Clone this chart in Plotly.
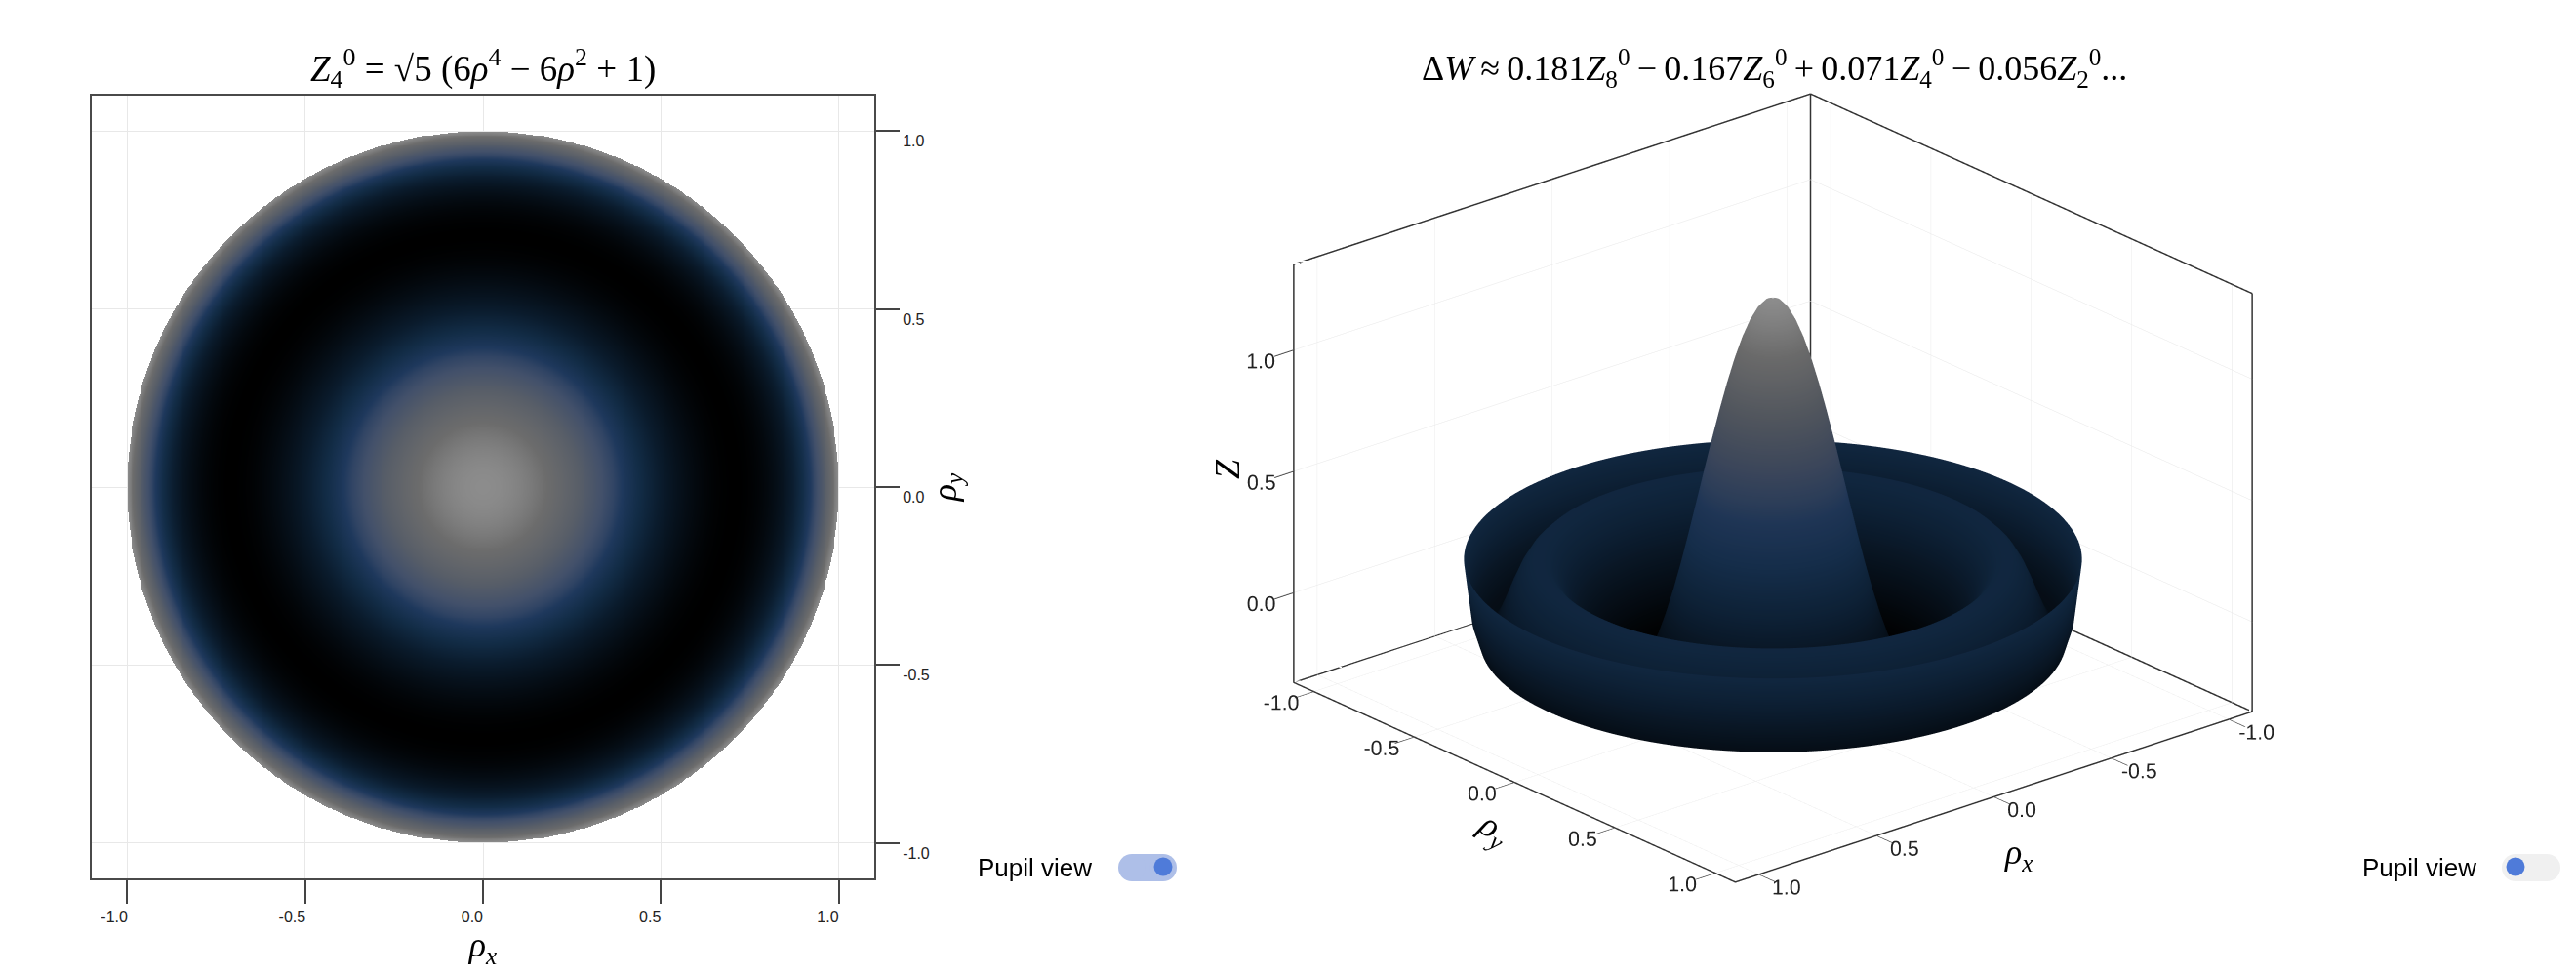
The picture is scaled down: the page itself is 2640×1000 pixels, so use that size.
import numpy as np
import plotly.graph_objects as go

W, H = 2640, 1000

# ---- data -----------------------------------------------------------------
rho_stations = [0.000, 0.025, 0.050, 0.075, 0.100, 0.125, 0.150, 0.175, 0.200, 0.225,
                0.250, 0.275, 0.300, 0.325, 0.350, 0.375, 0.400, 0.425, 0.450, 0.475,
                0.500, 0.525, 0.550, 0.575, 0.600, 0.625, 0.650, 0.675, 0.700, 0.725,
                0.750, 0.775, 0.800, 0.825, 0.850, 0.875, 0.900, 0.925, 0.950, 0.975, 1.000]
# left panel: radial profile of the pupil map
pupil_profile = [2.236, 2.228, 2.203, 2.161, 2.103, 2.030, 1.941, 1.838, 1.721, 1.591,
                 1.450, 1.298, 1.137, 0.969, 0.794, 0.615, 0.433, 0.250, 0.069, -0.108,
                 -0.280, -0.443, -0.595, -0.733, -0.855, -0.958, -1.037, -1.092, -1.117, -1.109,
                 -1.066, -0.982, -0.855, -0.680, -0.454, -0.171, 0.171, 0.579, 1.055, 1.606, 2.236]
# right panel: radial profile of the 3D surface
wavefront_profile = [1.275, 1.264, 1.232, 1.179, 1.108, 1.019, 0.916, 0.801, 0.678, 0.549,
                     0.419, 0.291, 0.168, 0.055, -0.046, -0.133, -0.203, -0.253, -0.285, -0.296,
                     -0.288, -0.261, -0.220, -0.165, -0.102, -0.034, 0.033, 0.095, 0.147, 0.183,
                     0.199, 0.195, 0.166, 0.117, 0.050, -0.025, -0.094, -0.138, -0.130, -0.037, 0.198]
tick_vals = [-1.0, -0.5, 0.0, 0.5, 1.0]
tick_text = ["-1.0", "-0.5", "0.0", "0.5", "1.0"]
z_tick_vals = [0.0, 0.5, 1.0]
z_tick_text = ["0.0", "0.5", "1.0"]
xy_range = [-1.1, 1.1]
z_range = [-0.37, 1.353]

colors = [[0.0, "rgb(0,0,0)"], [0.25, "rgb(10,27,44)"], [0.375, "rgb(18,44,70)"],
          [0.48, "rgb(30,56,92)"], [0.53, "rgb(48,68,100)"], [0.6, "rgb(66,80,106)"],
          [0.73, "rgb(88,94,104)"], [0.875, "rgb(108,108,108)"], [0.96, "rgb(130,130,130)"],
          [1.0, "rgb(140,140,140)"]]
colors_3d = [[0.0, "rgb(0,0,0)"], [0.25, "rgb(16,40,66)"], [0.375, "rgb(26,56,92)"],
             [0.48, "rgb(38,66,106)"], [0.53, "rgb(54,76,110)"], [0.6, "rgb(72,86,112)"],
             [0.73, "rgb(100,106,116)"], [0.875, "rgb(132,132,132)"], [1.0, "rgb(175,175,175)"]]

# ---- left panel -----------------------------------------------------------
axis_grid = np.arange(-1.0, 1.0001, 0.0025)
gx, gy = np.meshgrid(axis_grid, axis_grid)
gr = np.hypot(gx, gy)
zmap = np.interp(gr, rho_stations, pupil_profile)
zmap[gr > 1.0] = np.nan

fig = go.Figure()
fig.add_trace(go.Heatmap(x=axis_grid, y=axis_grid, z=zmap, colorscale=colors,
                         zmin=-1.118, zmax=2.236, showscale=False, hoverinfo="skip"))

# ---- right panel ----------------------------------------------------------
rr = np.array(rho_stations)
theta = np.deg2rad(np.arange(0, 361, 2))
sx = np.outer(rr, np.cos(theta))
sy = np.outer(rr, np.sin(theta))
sz = np.outer(np.array(wavefront_profile), np.ones_like(theta))
fig.add_trace(go.Surface(x=sx, y=sy, z=sz, surfacecolor=sz, colorscale=colors_3d,
                         cmin=-0.296, cmax=1.275, showscale=False, hoverinfo="skip",
                         lighting=dict(ambient=0.8, diffuse=0.7, specular=0.0,
                                       roughness=0.3, fresnel=0.0),
                         lightposition=dict(x=65000, y=75000, z=10000), scene="scene"))

lo, hi = xy_range
zl, zh = z_range
edges = [((lo, lo, zl), (lo, lo, zh)), ((hi, lo, zl), (hi, lo, zh)), ((lo, hi, zl), (lo, hi, zh)),
         ((lo, lo, zh), (hi, lo, zh)), ((lo, lo, zh), (lo, hi, zh)),
         ((lo, lo, zl), (hi, lo, zl)), ((lo, lo, zl), (lo, hi, zl)),
         ((hi, hi, zl), (hi, lo, zl)), ((hi, hi, zl), (lo, hi, zl))]
for a, b in edges:
    fig.add_trace(go.Scatter3d(x=[a[0], b[0]], y=[a[1], b[1]], z=[a[2], b[2]], mode="lines",
                               hoverinfo="skip", showlegend=False,
                               line=dict(color="#333333", width=3), scene="scene"))


def px(v):
    return v / W


def py(v):
    return 1 - v / H


SANS = "Liberation Sans"
SERIF = "Liberation Serif"
TICK = dict(family=SANS, size=16, color="#222222")

x_text = [t + "\u00a0" * (6 if t.startswith("-") else 5) for t in tick_text]
y_text = ["<br>" + t for t in tick_text]
frame = dict(showline=True, linecolor="#4a4a4a", linewidth=2, mirror=True,
             showgrid=True, gridcolor="#e8e8e8", gridwidth=1, zeroline=False,
             ticks="outside", ticklen=24, tickwidth=1.5, tickcolor="#444444",
             tickfont=TICK, tickmode="array", tickvals=tick_vals, range=xy_range)
axis3d = dict(showbackground=False, showgrid=True, gridcolor="#e6e6e6", gridwidth=1,
              zeroline=False, showline=True, linecolor="#333333", linewidth=3,
              showspikes=False, ticks="outside", ticklen=26,
              tickcolor="#444444", tickwidth=2, tickangle=0,
              tickfont=dict(family=SANS, size=16, color="#222222"), tickmode="array",
              title=dict(text=""))
LABEL = dict(family=SERIF, size=36, color="black")


def note(text, x, y, font, **kw):
    return dict(text=text, x=px(x), y=py(y), xref="paper", yref="paper", showarrow=False,
                xanchor=kw.pop("xanchor", "center"), yanchor="middle", font=font, **kw)


T = "\u2009"
fig.update_layout(
    width=W, height=H, margin=dict(l=0, r=0, t=0, b=0),
    paper_bgcolor="white", plot_bgcolor="white", showlegend=False,
    xaxis=dict(domain=[px(94), px(896)], ticktext=x_text,
               title=dict(text="<i>ρ</i><sub><i>x</i></sub>", font=LABEL, standoff=6), **frame),
    yaxis=dict(domain=[py(900), py(98)], side="right", ticktext=y_text,
               title=dict(text="<i>ρ</i><sub><i>y</i></sub>", font=LABEL, standoff=0), **frame),
    scene=dict(
        domain=dict(x=[px(1817 - 600), px(1817 + 600)], y=[py(992), py(8)]),
        aspectmode="manual", aspectratio=dict(x=1.416, y=1.416, z=0.944),
        camera=dict(projection=dict(type="orthographic"), center=dict(x=0, y=0, z=0),
                    up=dict(x=0, y=0, z=1),
                    eye=dict(x=0.599 * 1.7, y=0.701 * 1.7, z=0.386 * 1.7)),
        xaxis=dict(range=xy_range, tickvals=tick_vals, ticktext=tick_text, **axis3d),
        yaxis=dict(range=xy_range, tickvals=tick_vals, ticktext=tick_text, **axis3d),
        zaxis=dict(range=z_range, tickvals=z_tick_vals, ticktext=z_tick_text, **axis3d),
    ),
    annotations=[
        note("<i>Z</i><sub>4</sub><sup>0</sup> = √5 (6<i>ρ</i><sup>4</sup> − 6<i>ρ</i><sup>2</sup> + 1)",
             495, 70, dict(family=SERIF, size=37, color="black")),
        note(f"Δ<i>W</i>{T}≈{T}0.181<i>Z</i><sub>8</sub><sup>0</sup>{T}−{T}0.167<i>Z</i><sub>6</sub><sup>0</sup>"
             f"{T}+{T}0.071<i>Z</i><sub>4</sub><sup>0</sup>{T}−{T}0.056<i>Z</i><sub>2</sub><sup>0</sup>...",
             1819, 70, dict(family=SERIF, size=36, color="black")),
        note("Pupil view", 1000, 889, dict(family=SANS, size=26, color="black"), xanchor="left"),
        note("Pupil view", 2419, 889, dict(family=SANS, size=26, color="black"), xanchor="left"),
        note("<i>Z</i>", 1258, 481, LABEL, textangle=-90),
        note("<i>ρ</i><sub><i>y</i></sub>", 1531, 850, LABEL, textangle=33),
        note("<i>ρ</i><sub><i>x</i></sub>", 2068, 875, LABEL),
    ],
)


def toggle(x0, x1, y0, y1, track, knob_x, knob_y, knob_r):
    r = (y1 - y0) / 2
    out = []
    for kw in (dict(type="rect", x0=px(x0 + r), x1=px(x1 - r), y0=py(y1), y1=py(y0)),
               dict(type="circle", x0=px(x0), x1=px(x0 + 2 * r), y0=py(y1), y1=py(y0)),
               dict(type="circle", x0=px(x1 - 2 * r), x1=px(x1), y0=py(y1), y1=py(y0))):
        out.append(dict(xref="paper", yref="paper", fillcolor=track, line=dict(width=0), **kw))
    out.append(dict(type="circle", xref="paper", yref="paper", fillcolor="#4f7bd9", line=dict(width=0),
                    x0=px(knob_x - knob_r), x1=px(knob_x + knob_r),
                    y0=py(knob_y + knob_r), y1=py(knob_y - knob_r)))
    return out


fig.update_layout(shapes=toggle(1146, 1206, 875, 903, "#aebfe8", 1192, 888, 9.5)
                  + toggle(2564, 2624, 875, 903, "#f0f0f0", 2578, 888, 9.5))

fig.write_html("out.html", config=dict(displayModeBar=False),
               post_script="document.body.style.margin='0';")
